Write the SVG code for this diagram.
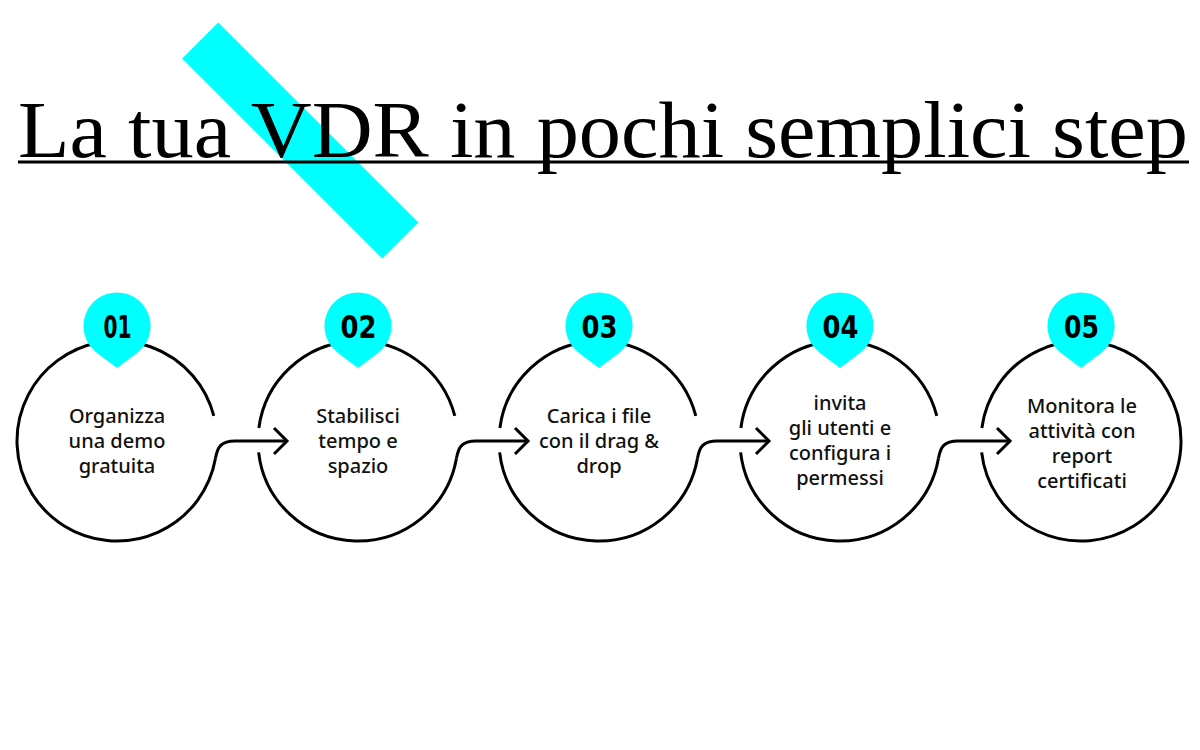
<svg xmlns="http://www.w3.org/2000/svg" width="1200" height="750" viewBox="0 0 1200 750">
  <style>
    .ring { fill: none; stroke: #000; stroke-width: 3; }
    .conn { fill: none; stroke: #000; stroke-width: 3; stroke-linejoin: miter; }
    .badge { fill: #00FFFF; }
    .num { font-family: "DejaVu Sans Condensed", "DejaVu Sans", sans-serif; font-stretch: condensed; font-weight: 700; font-size: 32.5px; text-anchor: middle; fill: #000; }
    .lbl { font-family: "Noto Sans", "Open Sans", sans-serif; font-weight: 500; font-size: 20px; text-anchor: middle; fill: #111; }
    .title { font-family: "Liberation Serif", "DejaVu Serif", serif; font-size: 80px; fill: #000; }
  </style>
  <defs>
    <path id="pin" d="M0 -33.5 A33.5 33.5 0 0 1 20 26.9 L0 42 L-20 26.9 A33.5 33.5 0 0 1 0 -33.5 Z"/>
  </defs>
  <rect width="1200" height="750" fill="#fff"/>

  <g id="title">
    <rect x="158.8" y="115" width="283" height="51" fill="#00FFFF" transform="rotate(45 300.3 140.5)"/>
    <text class="title" x="18" y="157" textLength="1170" lengthAdjust="spacingAndGlyphs">La tua VDR in pochi semplici step</text>
    <rect x="18" y="160.5" width="1171" height="3" fill="#000"/>
  </g>

  <g id="connectors">
    <path class="conn" d="M215.48 458.36 C217.5 447 221 441 235 441 L287 441"/>
    <polyline class="conn" points="274,428 287,441 274,454"/>
    <path class="conn" d="M456.48 458.36 C458.5 447 462 441 476 441 L528 441"/>
    <polyline class="conn" points="515,428 528,441 515,454"/>
    <path class="conn" d="M697.48 458.36 C699.5 447 703 441 717 441 L769 441"/>
    <polyline class="conn" points="756,428 769,441 756,454"/>
    <path class="conn" d="M938.48 458.36 C940.5 447 944 441 958 441 L1010 441"/>
    <polyline class="conn" points="997,428 1010,441 997,454"/>
  </g>

  <g id="step1">
    <path class="ring" d="M215.48 458.36 A100 100 0 1 1 213.82 415.96"/>
    <use href="#pin" class="badge" x="117" y="326"/>
    <text class="num" x="117.5" y="337.5" textLength="28" lengthAdjust="spacingAndGlyphs">01</text>
    <text class="lbl" x="117" y="423">Organizza</text>
    <text class="lbl" x="117" y="448">una demo</text>
    <text class="lbl" x="117" y="473">gratuita</text>
  </g>

  <g id="step2">
    <path class="ring" d="M456.48 458.36 A100 100 0 0 1 258.64 452.32 M258.86 427.95 A100 100 0 0 1 454.82 415.96"/>
    <use href="#pin" class="badge" x="358" y="326"/>
    <text class="num" x="358.5" y="337.5" textLength="36" lengthAdjust="spacingAndGlyphs">02</text>
    <text class="lbl" x="358" y="423">Stabilisci</text>
    <text class="lbl" x="358" y="448">tempo e</text>
    <text class="lbl" x="358" y="473">spazio</text>
  </g>

  <g id="step3">
    <path class="ring" d="M697.48 458.36 A100 100 0 0 1 499.64 452.32 M499.86 427.95 A100 100 0 0 1 695.82 415.96"/>
    <use href="#pin" class="badge" x="599" y="326"/>
    <text class="num" x="599.5" y="337.5" textLength="36" lengthAdjust="spacingAndGlyphs">03</text>
    <text class="lbl" x="599" y="423">Carica i file</text>
    <text class="lbl" x="599" y="448">con il drag &amp;</text>
    <text class="lbl" x="599" y="473">drop</text>
  </g>

  <g id="step4">
    <path class="ring" d="M938.48 458.36 A100 100 0 0 1 740.64 452.32 M740.86 427.95 A100 100 0 0 1 936.82 415.96"/>
    <use href="#pin" class="badge" x="840" y="326"/>
    <text class="num" x="840.5" y="337.5" textLength="36" lengthAdjust="spacingAndGlyphs">04</text>
    <text class="lbl" x="840" y="410">invita</text>
    <text class="lbl" x="840" y="435">gli utenti e</text>
    <text class="lbl" x="840" y="460">configura i</text>
    <text class="lbl" x="840" y="485">permessi</text>
  </g>

  <g id="step5">
    <path class="ring" d="M981.86 427.95 A100 100 0 1 1 981.64 452.32"/>
    <use href="#pin" class="badge" x="1081" y="326"/>
    <text class="num" x="1081.5" y="337.5" textLength="35" lengthAdjust="spacingAndGlyphs">05</text>
    <text class="lbl" x="1082" y="413">Monitora le</text>
    <text class="lbl" x="1082" y="438">attività con</text>
    <text class="lbl" x="1082" y="463">report</text>
    <text class="lbl" x="1082" y="488">certificati</text>
  </g>
</svg>
